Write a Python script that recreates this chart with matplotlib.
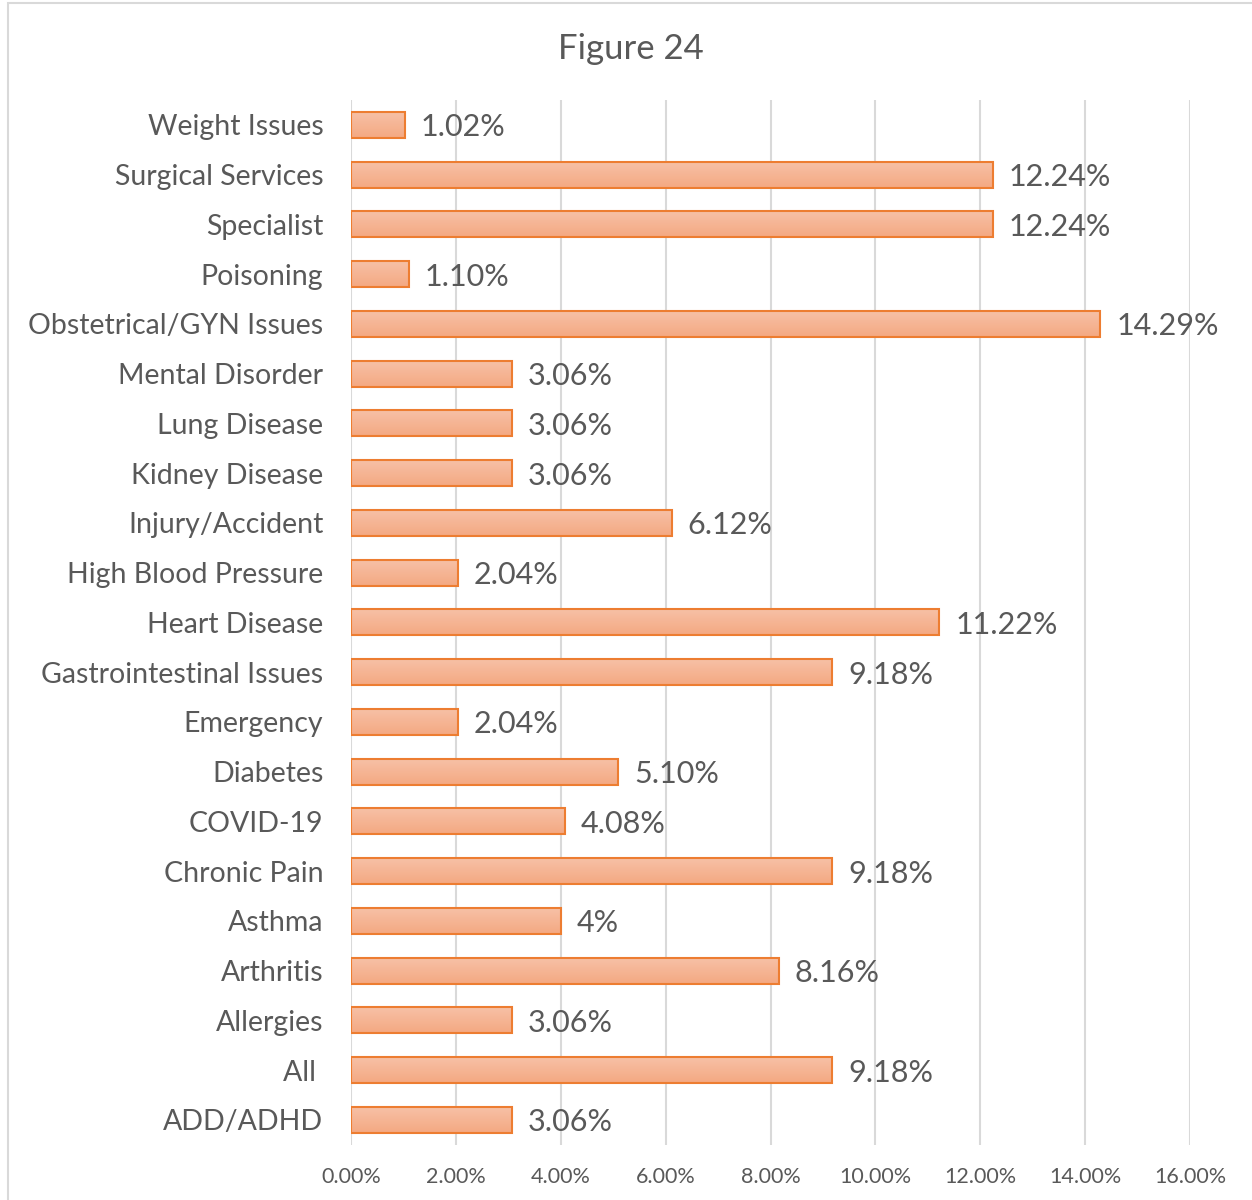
import matplotlib.pyplot as plt
import numpy as np
from matplotlib.colors import LinearSegmentedColormap

# categories listed bottom to top
categories = ["ADD/ADHD", "All ", "Allergies", "Arthritis", "Asthma", "Chronic Pain",
              "COVID-19", "Diabetes", "Emergency", "Gastrointestinal Issues",
              "Heart Disease", "High Blood Pressure", "Injury/Accident", "Kidney Disease",
              "Lung Disease", "Mental Disorder", "Obstetrical/GYN Issues", "Poisoning",
              "Specialist", "Surgical Services", "Weight Issues"]
values = [3.06, 9.18, 3.06, 8.16, 4.0, 9.18, 4.08, 5.10, 2.04, 9.18,
          11.22, 2.04, 6.12, 3.06, 3.06, 3.06, 14.29, 1.10, 12.24, 12.24, 1.02]
labels = ["3.06%", "9.18%", "3.06%", "8.16%", "4%", "9.18%", "4.08%", "5.10%", "2.04%",
          "9.18%", "11.22%", "2.04%", "6.12%", "3.06%", "3.06%", "3.06%", "14.29%",
          "1.10%", "12.24%", "12.24%", "1.02%"]

plt.rcParams['font.family'] = ['Lato', 'DejaVu Sans']
gray = "#595959"

fig = plt.figure(figsize=(12.52, 12), dpi=100)
ax = fig.add_axes([0.2804, 0.046, 0.9505 - 0.2804, 0.8707])

y = np.arange(len(categories))
bars = ax.barh(y, values, height=0.52, color="none", edgecolor="#ED7D31", linewidth=1.5, zorder=3)

# vertical gradient fill for each bar (lighter at top)
cmap = LinearSegmentedColormap.from_list("bar", ["#F4A882", "#F7C1A6"])
grad = np.linspace(0, 1, 50).reshape(-1, 1)
for b in bars:
    x0, y0, w, h = b.get_x(), b.get_y(), b.get_width(), b.get_height()
    ax.imshow(grad, cmap=cmap, aspect="auto", origin="lower",
              extent=[x0, x0 + w, y0, y0 + h], zorder=2)

for b, lab in zip(bars, labels):
    ax.text(b.get_width() + 0.3, b.get_y() + b.get_height() / 2 - 0.05, lab,
            va="center", ha="left", fontsize=22, color=gray, zorder=4)

ax.set_xlim(0, 16)
ax.set_ylim(-0.5, len(categories) - 0.5)
ax.set_xticks(np.arange(0, 17, 2))
ax.set_xticklabels([f"{v:.2f}%" for v in np.arange(0, 17, 2)], fontsize=15.5, color=gray)
ax.set_yticks(y)
ax.set_yticklabels(categories, fontsize=20.5, color=gray)
ax.tick_params(axis="both", length=0)
ax.tick_params(axis="y", pad=20)
ax.tick_params(axis="x", pad=16)
ax.grid(axis="x", color="#D9D9D9", linewidth=1.5, zorder=0)
for s in ax.spines.values():
    s.set_visible(False)

fig.text(0.504, 0.959, "Figure 24", ha="center", va="center", fontsize=25, color=gray)

# chart border
fig.patches.append(plt.Rectangle((0.006, -0.01), 1.0, 1.0075, transform=fig.transFigure,
                                 fill=False, edgecolor="#D9D9D9", linewidth=1.5))

fig.savefig("out.png", dpi=100)
